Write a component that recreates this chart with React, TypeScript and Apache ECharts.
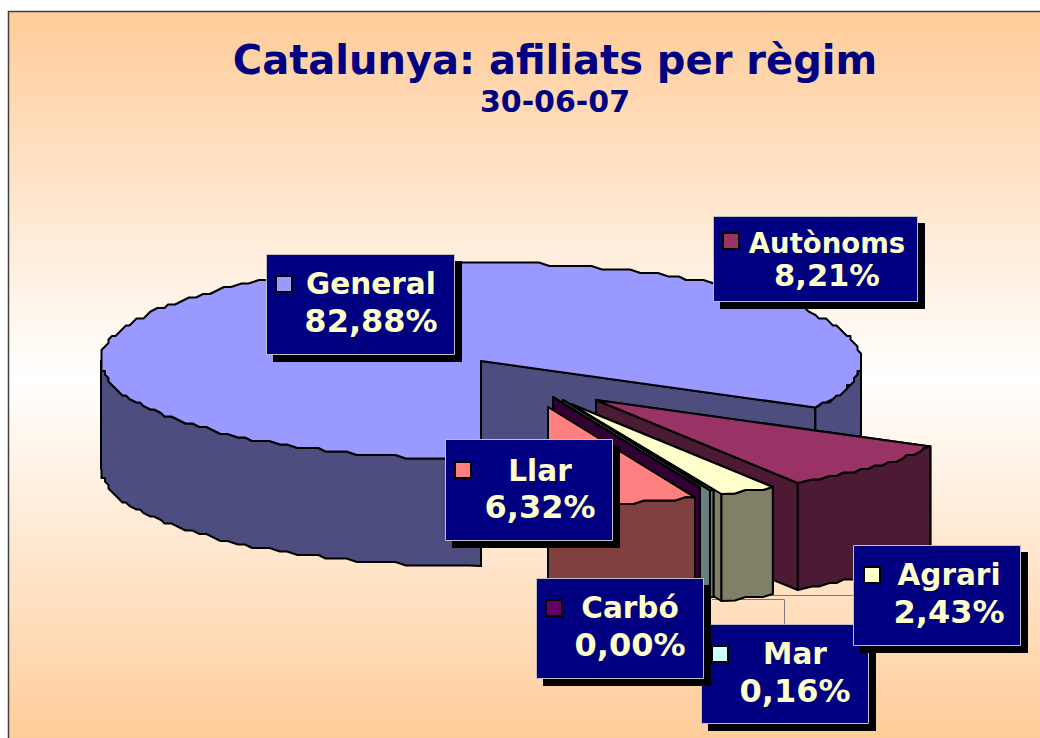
import React, { useEffect, useRef } from "react";
import * as echarts from "echarts";

const categories = ["General", "Autònoms", "Agrari", "Mar", "Carbó", "Llar"];
const shares = [82.88, 8.21, 2.43, 0.16, 0.0, 6.32];
const titleText = "Catalunya: afiliats per règim";
const subtitleText = "30-06-07";

const topColors = ["#9999ff", "#993366", "#ffffcc", "#ccffff", "#660066", "#ff8080"];
const wallColors = ["#4d4d80", "#4d1a33", "#808066", "#668080", "#330033", "#804040"];

const RX = 380;
const RY = 98;
const DEPTH = 107;
const START_ANGLE = 180;
const centres: number[][] = [
  [481, 361],
  [596, 400],
  [571, 404],
  [563, 400],
  [553, 397],
  [548, 407],
];

const labelOrder = [0, 1, 5, 3, 4, 2];
const boxes: Record<number, any> = {
  0: { x: 266, y: 254, w: 188, h: 100, kx: 275, ky: 275, cx: 371, b1: 295, b2: 333, s1: 29.5, s2: 32 },
  1: { x: 713, y: 216, w: 204, h: 85, kx: 722, ky: 232, cx: 827, b1: 253, b2: 287, s1: 27.5, s2: 30.5 },
  2: { x: 853, y: 545, w: 167, h: 100, kx: 863, ky: 566, cx: 949, b1: 586, b2: 624, s1: 29.5, s2: 32 },
  3: { x: 701, y: 624, w: 167, h: 99, kx: 711, ky: 645, cx: 795, b1: 665, b2: 703, s1: 29.5, s2: 32 },
  4: { x: 536, y: 578, w: 167, h: 100, kx: 545, ky: 599, cx: 630, b1: 619, b2: 657, s1: 29.5, s2: 32 },
  5: { x: 445, y: 439, w: 167, h: 101, kx: 454, ky: 461, cx: 540, b1: 482, b2: 519, s1: 29.5, s2: 32 },
};
const leaders: number[][][] = [
  [[753, 595.5], [853, 595.5]],
  [[712, 599.5], [784.5, 599.5], [784.5, 624]],
];

const FONT = '"DejaVu Sans", Verdana, sans-serif';
const fmt = (v: number) => v.toFixed(2).replace(".", ",") + "%";

const rimPoint = (c: number[], deg: number) => {
  const r = (deg * Math.PI) / 180;
  return [c[0] + RX * Math.sin(r), c[1] - RY * Math.cos(r)];
};

// arc sampled on a coarse pixel grid: the reference outline is wobbly
const GRID = 3.5;
const STEP = 1.6;
const arc = (c: number[], a0: number, a1: number) => {
  const pts: number[][] = [rimPoint(c, a0)];
  for (let a = a0 + STEP; a < a1 - STEP / 2; a += STEP) {
    const p = rimPoint(c, a);
    pts.push([Math.round(p[0] / GRID) * GRID, Math.round(p[1] / GRID) * GRID]);
  }
  pts.push(rimPoint(c, a1));
  return pts;
};

const down = (p: number[]) => [p[0], p[1] + DEPTH];

const angleRange = (index: number) => {
  let a = START_ANGLE;
  for (let i = 0; i < index; i++) a += (shares[i] / 100) * 360;
  return [a, a + (shares[index] / 100) * 360];
};

const stroke = { stroke: "#000", lineWidth: 2, lineJoin: "round" as const };

const renderSlice = (_p: any, api: any) => {
  const i = api.value(0);
  const [a0, a1] = angleRange(i);
  const c = centres[i];
  const top = topColors[i];
  const wall = wallColors[i];
  const children: any[] = [];
  const poly = (points: number[][], fill: string) =>
    children.push({ type: "polygon", shape: { points }, style: { fill, ...stroke } });

  // cut faces
  [a0, a1].forEach((a) => {
    const p = rimPoint(c, a);
    poly([c, p, down(p), down(c)], wall);
  });
  // outer face, only where it looks at the viewer
  [[90, 270], [450, 630]].forEach(([f0, f1]) => {
    const s = Math.max(a0, f0);
    const e = Math.min(a1, f1);
    if (e > s) {
      const pts = arc(c, s, e);
      poly([...pts, ...pts.slice().reverse().map(down)], wall);
    }
  });
  // top face
  poly([c, ...arc(c, a0, a1)], top);
  return { type: "group", children };
};

const renderLabel = (_p: any, api: any) => {
  const i = api.value(0);
  const b = boxes[i];
  const text = (t: string, base: number, size: number) => ({
    type: "text",
    style: {
      text: t,
      x: b.cx,
      y: base - size * 0.365,
      align: "center",
      verticalAlign: "middle",
      fontFamily: FONT,
      fontWeight: "bold",
      fontSize: size,
      fill: "#ffffcc",
    },
  });
  return {
    type: "group",
    children: [
      { type: "rect", shape: { x: b.x + 7, y: b.y + 7, width: b.w + 1, height: b.h + 1 }, style: { fill: "#000" } },
      {
        type: "rect",
        shape: { x: b.x + 0.5, y: b.y + 0.5, width: b.w, height: b.h },
        style: { fill: "#000080", stroke: "#c0c0c0", lineWidth: 1 },
      },
      {
        type: "rect",
        shape: { x: b.kx + 1, y: b.ky + 1, width: 16, height: 16 },
        style: { fill: topColors[i], stroke: "#000", lineWidth: 2 },
      },
      text(categories[i], b.b1, b.s1),
      text(fmt(api.value(1)), b.b2, b.s2),
    ],
  };
};

const renderLeader = (_p: any, api: any) => ({
  type: "polyline",
  shape: { points: leaders[api.value(0)] },
  style: { fill: "none", stroke: "#7a7a7a", lineWidth: 1 },
});

export default function App() {
  const ref = useRef<HTMLDivElement>(null);
  useEffect(() => {
    const chart = echarts.init(ref.current!, undefined, { renderer: "svg" });
    const rows = categories.map((name, i) => ({ name, value: [i, shares[i]] }));
    chart.setOption({
      animation: false,
      backgroundColor: "#ffffff",
      title: [
        {
          text: titleText,
          left: 550,
          top: 35,
          textAlign: "center",
          textStyle: { fontFamily: FONT, fontWeight: "bold", fontSize: 40, color: "#000080" },
        },
        {
          text: subtitleText,
          left: 550,
          top: 81,
          textAlign: "center",
          textStyle: { fontFamily: FONT, fontWeight: "bold", fontSize: 30, color: "#000080" },
        },
      ],
      graphic: [
        {
          type: "rect",
          z: -1,
          shape: { x: 8.5, y: 11.5, width: 1040, height: 732 },
          style: {
            fill: new echarts.graphic.LinearGradient(0, 0, 0, 1, [
              { offset: 0, color: "#ffcc99" },
              { offset: 0.5, color: "#ffffff" },
              { offset: 1, color: "#ffcc99" },
            ]),
            stroke: "#404040",
            lineWidth: 1.5,
          },
        },
      ],
      series: [
        {
          type: "custom",
          coordinateSystem: "none",
          z: 1,
          silent: true,
          data: leaders.map((_, i) => [i]),
          renderItem: renderLeader,
        },
        {
          type: "custom",
          coordinateSystem: "none",
          z: 2,
          silent: true,
          data: rows,
          renderItem: renderSlice,
        },
        {
          type: "custom",
          coordinateSystem: "none",
          z: 3,
          silent: true,
          data: labelOrder.map((i) => rows[i]),
          renderItem: renderLabel,
        },
      ],
    });
    return () => chart.dispose();
  }, []);
  return (
    <div
      ref={ref}
      style={{ position: "absolute", left: 0, top: 0, width: 1040, height: 738 }}
    />
  );
}
